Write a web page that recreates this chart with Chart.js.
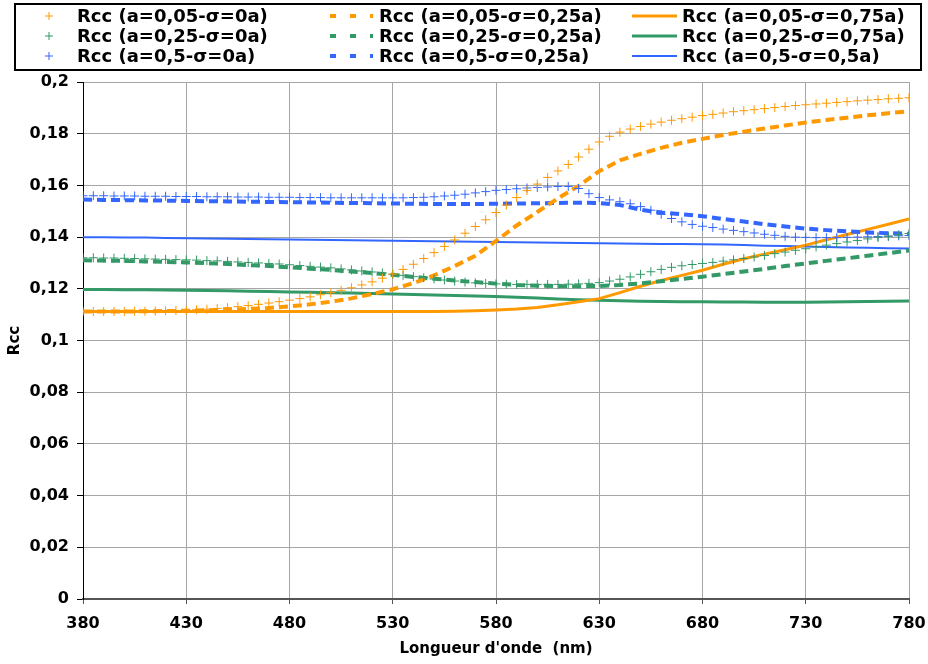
<!DOCTYPE html>
<html lang="fr">
<head>
<meta charset="UTF-8">
<title>Rcc - Longueur d'onde</title>
<style>
  body { margin: 0; background: #fff; }
  .chart-box { width: 928px; height: 664px; position: relative; }
</style>
</head>
<body>
<div class="chart-box"><canvas id="rccChart"></canvas></div>

<script src="https://cdn.jsdelivr.net/npm/chart.js"></script>
<script>
  // wavelengths (nm): markers every 5 nm, curves every 10 nm
  const wl5 = [380, 385, 390, 395, 400, 405, 410, 415, 420, 425,
               430, 435, 440, 445, 450, 455, 460, 465, 470, 475,
               480, 485, 490, 495, 500, 505, 510, 515, 520, 525,
               530, 535, 540, 545, 550, 555, 560, 565, 570, 575,
               580, 585, 590, 595, 600, 605, 610, 615, 620, 625,
               630, 635, 640, 645, 650, 655, 660, 665, 670, 675,
               680, 685, 690, 695, 700, 705, 710, 715, 720, 725,
               730, 735, 740, 745, 750, 755, 760, 765, 770, 775,
               780];
  const wl10 = [380, 390, 400, 410, 420, 430, 440, 450, 460, 470,
                480, 490, 500, 510, 520, 530, 540, 550, 560, 570,
                580, 590, 600, 610, 620, 630, 640, 650, 660, 670,
                680, 690, 700, 710, 720, 730, 740, 750, 760, 770,
                780];

  // sigma = 0a (crosses)
  const rccA005s0 = [0.1112, 0.1112, 0.1112, 0.1112, 0.1112, 0.1113, 0.1113, 0.1114, 0.1115, 0.1116,
                     0.1117, 0.1119, 0.1121, 0.1124, 0.1127, 0.1131, 0.1135, 0.1140, 0.1145, 0.1150,
                     0.1156, 0.1162, 0.1169, 0.1177, 0.1185, 0.1194, 0.1204, 0.1215, 0.1227, 0.1241,
                     0.1257, 0.1275, 0.1295, 0.1317, 0.1340, 0.1364, 0.1389, 0.1415, 0.1441, 0.1467,
                     0.1495, 0.1524, 0.1553, 0.1580, 0.1605, 0.1631, 0.1656, 0.1681, 0.1710, 0.1740,
                     0.1768, 0.1790, 0.1806, 0.1818, 0.1828, 0.1837, 0.1845, 0.1852, 0.1858, 0.1864,
                     0.1870, 0.1875, 0.1880, 0.1885, 0.1889, 0.1893, 0.1897, 0.1901, 0.1905, 0.1909,
                     0.1912, 0.1915, 0.1918, 0.1921, 0.1924, 0.1927, 0.1930, 0.1932, 0.1935, 0.1937,
                     0.1939];
  const rccA025s0 = [0.1320, 0.1320, 0.1319, 0.1319, 0.1318, 0.1317, 0.1316, 0.1315, 0.1314, 0.1313,
                     0.1312, 0.1311, 0.1309, 0.1308, 0.1306, 0.1304, 0.1302, 0.1300, 0.1298, 0.1296,
                     0.1293, 0.1290, 0.1287, 0.1284, 0.1281, 0.1277, 0.1273, 0.1269, 0.1265, 0.1261,
                     0.1256, 0.1252, 0.1247, 0.1243, 0.1238, 0.1234, 0.1230, 0.1226, 0.1223, 0.1221,
                     0.1219, 0.1218, 0.1217, 0.1217, 0.1217, 0.1217, 0.1217, 0.1218, 0.1219, 0.1221,
                     0.1224, 0.1230, 0.1237, 0.1246, 0.1256, 0.1266, 0.1275, 0.1283, 0.1289, 0.1294,
                     0.1298, 0.1302, 0.1307, 0.1312, 0.1317, 0.1323, 0.1329, 0.1336, 0.1342, 0.1349,
                     0.1355, 0.1362, 0.1369, 0.1375, 0.1381, 0.1387, 0.1393, 0.1399, 0.1404, 0.1409,
                     0.1414];
  const rccA05s0 = [0.1560, 0.1560, 0.1560, 0.1559, 0.1559, 0.1559, 0.1558, 0.1558, 0.1558, 0.1557,
                    0.1557, 0.1557, 0.1556, 0.1556, 0.1556, 0.1555, 0.1555, 0.1555, 0.1554, 0.1554,
                    0.1554, 0.1553, 0.1553, 0.1553, 0.1552, 0.1552, 0.1552, 0.1552, 0.1552, 0.1552,
                    0.1552, 0.1552, 0.1553, 0.1554, 0.1556, 0.1559, 0.1562, 0.1566, 0.1571, 0.1576,
                    0.1581, 0.1584, 0.1587, 0.1590, 0.1592, 0.1594, 0.1596, 0.1596, 0.1588, 0.1568,
                    0.1553, 0.1544, 0.1537, 0.1529, 0.1518, 0.1504, 0.1488, 0.1472, 0.1459, 0.1449,
                    0.1442, 0.1437, 0.1431, 0.1426, 0.1421, 0.1416, 0.1411, 0.1407, 0.1403, 0.1400,
                    0.1399, 0.1398, 0.1398, 0.1398, 0.1399, 0.1400, 0.1401, 0.1402, 0.1403, 0.1405,
                    0.1406];

  // sigma = 0,25a (dashed)
  const rccA005s025 = [0.1112, 0.1112, 0.1112, 0.1113, 0.1114, 0.1115, 0.1117, 0.1119, 0.1122, 0.1126,
                       0.1132, 0.1140, 0.1150, 0.1163, 0.1180, 0.1198, 0.1222, 0.1252, 0.1288, 0.1328,
                       0.1385, 0.1445, 0.1497, 0.1550, 0.1598, 0.1655, 0.1697, 0.1722, 0.1745, 0.1765,
                       0.1780, 0.1795, 0.1808, 0.1820, 0.1832, 0.1843, 0.1853, 0.1862, 0.1871, 0.1879,
                       0.1887];
  const rccA025s025 = [0.1310, 0.1309, 0.1308, 0.1306, 0.1304, 0.1302, 0.1299, 0.1296, 0.1292, 0.1288,
                       0.1283, 0.1278, 0.1273, 0.1267, 0.1261, 0.1254, 0.1246, 0.1239, 0.1232, 0.1226,
                       0.1220, 0.1215, 0.1212, 0.1210, 0.1210, 0.1211, 0.1215, 0.1221, 0.1229, 0.1238,
                       0.1247, 0.1257, 0.1267, 0.1277, 0.1288, 0.1298, 0.1308, 0.1318, 0.1328, 0.1338,
                       0.1348];
  const rccA05s025 = [0.1545, 0.1544, 0.1543, 0.1542, 0.1541, 0.1540, 0.1539, 0.1538, 0.1537, 0.1536,
                      0.1535, 0.1534, 0.1533, 0.1532, 0.1531, 0.1530, 0.1529, 0.1528, 0.1528, 0.1528,
                      0.1529, 0.1530, 0.1531, 0.1532, 0.1533, 0.1532, 0.1524, 0.1506, 0.1495, 0.1488,
                      0.1481, 0.1470, 0.1460, 0.1450, 0.1441, 0.1433, 0.1427, 0.1422, 0.1418, 0.1415,
                      0.1413];

  // sigma = 0,75a / 0,5a (solid)
  const rccA005s075 = [0.1112, 0.1112, 0.1112, 0.1112, 0.1112, 0.1112, 0.1112, 0.1112, 0.1112, 0.1112,
                       0.1112, 0.1112, 0.1112, 0.1112, 0.1112, 0.1112, 0.1112, 0.1112, 0.1113, 0.1115,
                       0.1118, 0.1122, 0.1128, 0.1138, 0.1150, 0.1162, 0.1185, 0.1210, 0.1232, 0.1252,
                       0.1272, 0.1295, 0.1316, 0.1334, 0.1351, 0.1369, 0.1390, 0.1410, 0.1430, 0.1450,
                       0.1470];
  const rccA025s075 = [0.1197, 0.1197, 0.1196, 0.1196, 0.1195, 0.1194, 0.1193, 0.1192, 0.1191, 0.1190,
                       0.1188, 0.1187, 0.1185, 0.1184, 0.1182, 0.1180, 0.1178, 0.1176, 0.1174, 0.1172,
                       0.1170, 0.1167, 0.1164, 0.1161, 0.1158, 0.1156, 0.1154, 0.1152, 0.1151, 0.1150,
                       0.1150, 0.1149, 0.1149, 0.1148, 0.1148, 0.1148, 0.1149, 0.1150, 0.1151, 0.1152,
                       0.1153];
  const rccA05s05 = [0.1399, 0.1399, 0.1398, 0.1398, 0.1397, 0.1396, 0.1395, 0.1394, 0.1393, 0.1392,
                     0.1391, 0.1390, 0.1389, 0.1388, 0.1387, 0.1386, 0.1385, 0.1384, 0.1383, 0.1382,
                     0.1381, 0.1380, 0.1379, 0.1378, 0.1377, 0.1376, 0.1375, 0.1374, 0.1373, 0.1373,
                     0.1372, 0.1371, 0.1369, 0.1367, 0.1366, 0.1364, 0.1362, 0.1360, 0.1359, 0.1357,
                     0.1356];

  const orange = '#ff9900';
  const green = '#339966';
  const blue = '#3366ff';
  const fontName = '"DejaVu Sans", Verdana, sans-serif';

  const pts = (xs, ys) => xs.map((x, i) => ({ x: x, y: ys[i] }));

  function crossSet(label, xs, ys, color) {
    return { label, data: pts(xs, ys), borderColor: color, backgroundColor: color,
             showLine: false, pointStyle: 'cross', pointRadius: 4.5, pointBorderWidth: 1, kind: 'cross' };
  }
  function lineSet(label, xs, ys, color, width, dash) {
    return { label, data: pts(xs, ys), borderColor: color, backgroundColor: color,
             borderWidth: width, borderDash: dash, pointRadius: 0, kind: dash.length ? 'dash' : 'line' };
  }

  // legend order = column by column
  const datasets = [
    crossSet('Rcc (a=0,05-σ=0a)', wl5, rccA005s0, orange),
    crossSet('Rcc (a=0,25-σ=0a)', wl5, rccA025s0, green),
    crossSet('Rcc (a=0,5-σ=0a)', wl5, rccA05s0, blue),
    lineSet('Rcc (a=0,05-σ=0,25a)', wl10, rccA005s025, orange, 4, [9, 5]),
    lineSet('Rcc (a=0,25-σ=0,25a)', wl10, rccA025s025, green, 4, [9, 5]),
    lineSet('Rcc (a=0,5-σ=0,25a)', wl10, rccA05s025, blue, 4, [9, 5]),
    lineSet('Rcc (a=0,05-σ=0,75a)', wl10, rccA005s075, orange, 3, []),
    lineSet('Rcc (a=0,25-σ=0,75a)', wl10, rccA025s075, green, 3, []),
    lineSet('Rcc (a=0,5-σ=0,5a)', wl10, rccA05s05, blue, 2, [])
  ];

  // boxed 3-column legend on top
  const boxLegend = {
    id: 'boxLegend',
    afterDraw(chart) {
      const ctx = chart.ctx;
      const markX = [49, 330, 632];
      const textX = [77, 379, 682];
      const rowY = [16, 36, 56];
      ctx.save();
      ctx.strokeStyle = '#000';
      ctx.lineWidth = 2;
      ctx.strokeRect(15, 4, 906, 66);
      ctx.font = 'bold 18px ' + fontName;
      ctx.textBaseline = 'middle';
      chart.data.datasets.forEach((ds, i) => {
        const col = Math.floor(i / 3), y = rowY[i % 3];
        ctx.strokeStyle = ds.borderColor;
        ctx.beginPath();
        if (ds.kind === 'cross') {
          ctx.lineWidth = 1;
          ctx.moveTo(markX[0] - 4, y); ctx.lineTo(markX[0] + 4, y);
          ctx.moveTo(markX[0], y - 4); ctx.lineTo(markX[0], y + 4);
        } else if (ds.kind === 'dash') {
          ctx.lineWidth = 4;
          ctx.setLineDash([6, 14]);
          ctx.moveTo(markX[1], y); ctx.lineTo(markX[1] + 43, y);
        } else {
          ctx.lineWidth = ds.borderWidth;
          ctx.moveTo(markX[2], y); ctx.lineTo(markX[2] + 45, y);
        }
        ctx.stroke();
        ctx.setLineDash([]);
        ctx.fillStyle = '#000';
        ctx.fillText(ds.label, textX[col], y + 1);
      });
      ctx.restore();
    }
  };

  const rccChart = new Chart(document.getElementById('rccChart'), {
    type: 'line',
    data: { datasets: datasets },
    plugins: [boxLegend],
    options: {
      responsive: true,
      maintainAspectRatio: false,
      animation: false,
      layout: { autoPadding: false, padding: { top: 82, right: 0, left: 0, bottom: 0 } },
      plugins: { legend: { display: false }, tooltip: { enabled: false } },
      scales: {
        x: {
          type: 'linear', min: 380, max: 780,
          afterFit: s => { s.height = 65; s.paddingLeft = 0; s.paddingRight = 0; },
          ticks: { stepSize: 50, color: '#000', padding: 10, font: { family: fontName, weight: 'bold', size: 16 } },
          grid: { color: '#a6a6a6', tickColor: '#555', tickLength: 5 },
          border: { color: '#555', width: 2 },
          title: { display: true, text: "Longueur d'onde  (nm)", color: '#000', padding: { top: 0, bottom: 6 },
                   font: { family: fontName, weight: 'bold', size: 15 } }
        },
        y: {
          min: 0, max: 0.2,
          afterFit: s => { s.width = 83; s.paddingTop = 0; s.paddingBottom = 0; },
          ticks: {
            stepSize: 0.02, color: '#000', padding: 8,
            font: { family: fontName, weight: 'bold', size: 16 },
            callback: v => v === 0 ? '0' : String(+v.toFixed(2)).replace('.', ',')
          },
          grid: { color: '#a6a6a6', tickColor: '#000', tickLength: 6 },
          border: { color: '#000', width: 1 },
          title: { display: true, text: 'Rcc', color: '#000', padding: { top: 6, bottom: 4 },
                   font: { family: fontName, weight: 'bold', size: 15 } }
        },
        // empty right margin
        yR: {
          position: 'right', min: 0, max: 1,
          afterFit: s => { s.width = 19; s.paddingTop = 0; s.paddingBottom = 0; },
          ticks: { display: false },
          grid: { display: false, drawTicks: false },
          border: { display: false }
        }
      }
    }
  });
</script>
</body>
</html>
